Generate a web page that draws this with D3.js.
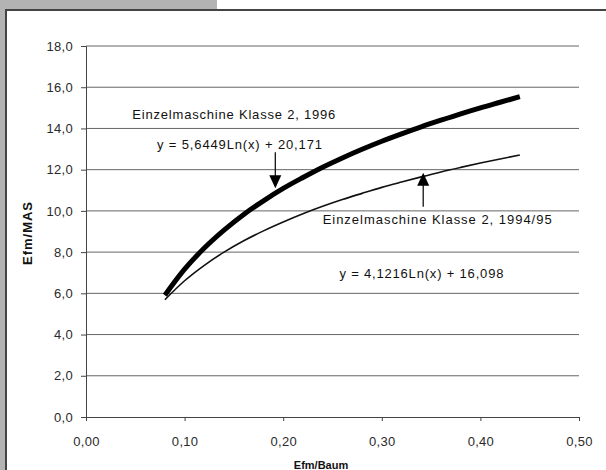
<!DOCTYPE html>
<html lang="de">
  <head>
    <meta charset="utf-8" />
    <title>Efm/MAS</title>
    <script src="https://d3js.org/d3.v7.min.js"></script>
    <style>
     body {
       margin: 0;
       background: #fff;
       font-family: Arial, "Liberation Sans", sans-serif;
     }
     .tick text {
       fill: #2a2a2a;
       font-size: 13px;
       letter-spacing: 0.3px;
     }
     .note {
       fill: #111;
       font-size: 13px;
     }
     .title {
       fill: #111;
       font-weight: bold;
     }
    </style>
  </head>
  <body>
    <div id="chart"></div>

    <script>

     // x values (Efm/Baum) and the two fitted curves
     var xVals = [0.08, 0.10, 0.12, 0.14, 0.16, 0.18, 0.20, 0.22, 0.24, 0.26,
                  0.28, 0.30, 0.32, 0.34, 0.36, 0.38, 0.40, 0.42, 0.44];
     var y1996 = [5.91, 7.17, 8.20, 9.07, 9.83, 10.49, 11.09, 11.62, 12.12, 12.57,
                  12.99, 13.38, 13.74, 14.08, 14.40, 14.71, 15.00, 15.27, 15.54];
     var y199495 = [5.69, 6.61, 7.36, 8.00, 8.55, 9.03, 9.46, 9.86, 10.22, 10.55,
                    10.85, 11.14, 11.40, 11.65, 11.89, 12.11, 12.32, 12.52, 12.71];

     var xTicks = [0, 0.1, 0.2, 0.3, 0.4, 0.5];
     var yTicks = [0, 2, 4, 6, 8, 10, 12, 14, 16, 18];

     // annotation texts, [x, y] in data units
     var notes = [
       {text: "Einzelmaschine Klasse 2, 1996", x: 0.047, y: 14.45, len: 203},
       {text: "y = 5,6449Ln(x) + 20,171", x: 0.072, y: 13.0, len: 165},
       {text: "Einzelmaschine Klasse 2,  1994/95", x: 0.240, y: 9.37, len: 229},
       {text: "y = 4,1216Ln(x) + 16,098", x: 0.257, y: 6.75, len: 164}
     ];
     // arrows: from tail to tip, data units
     var arrows = [
       {x: 0.192, from: 12.85, to: 11.1},
       {x: 0.342, from: 10.2, to: 11.85}
     ];

     var width = 606, height = 470;

     var svg = d3.select("#chart").append("svg")
                 .attr("width", width)
                 .attr("height", height);

     // scan frame: grey strips and dark border
     svg.append("rect").attr("x", 0).attr("y", 0).attr("width", 217).attr("height", 10).attr("fill", "#b3b3b3");
     svg.append("rect").attr("x", 0).attr("y", 0).attr("width", 5).attr("height", height).attr("fill", "#b3b3b3");
     svg.append("line").attr("x1", 5).attr("x2", width).attr("y1", 10).attr("y2", 10)
        .attr("stroke", "#444").attr("stroke-width", 2);
     svg.append("line").attr("x1", 6).attr("x2", 6).attr("y1", 10).attr("y2", height)
        .attr("stroke", "#444").attr("stroke-width", 2);

     var x = d3.scaleLinear().domain([0, 0.5]).range([86, 579]);
     var y = d3.scaleLinear().domain([0, 18]).range([417, 46]);

     var fmt = function(d, n) { return d3.format("." + n + "f")(d).replace(".", ","); };

     // gridlines
     svg.append("g")
        .selectAll("line")
        .data(yTicks.filter(function(d) { return d > 0; }))
        .join("line")
        .attr("x1", x(0)).attr("x2", x(0.5))
        .attr("y1", function(d) { return y(d); })
        .attr("y2", function(d) { return y(d); })
        .attr("stroke", "#666")
        .attr("stroke-width", 1);

     var xAxis = svg.append("g")
        .attr("transform", "translate(0," + y(0) + ")")
        .call(d3.axisBottom(x).tickValues(xTicks).tickSize(4).tickPadding(16)
                .tickFormat(function(d) { return fmt(d, 2); }));

     var yAxis = svg.append("g")
        .attr("transform", "translate(" + x(0) + ",0)")
        .call(d3.axisLeft(y).tickValues(yTicks).tickSize(5).tickPadding(8)
                .tickFormat(function(d) { return fmt(d, 1); }));

     [xAxis, yAxis].forEach(function(a) {
       a.select(".domain").attr("stroke", "#444");
       a.selectAll(".tick line").attr("stroke", "#444");
       a.attr("font-family", null).attr("font-size", null);
     });

     // axis titles
     svg.append("text").attr("class", "title")
        .attr("x", 321).attr("y", 469)
        .attr("font-size", 11)
        .attr("text-anchor", "middle")
        .text("Efm/Baum");
     svg.append("text").attr("class", "title")
        .attr("transform", "translate(32," + 233 + ") rotate(-90)")
        .attr("font-size", 13)
        .attr("letter-spacing", 1)
        .attr("text-anchor", "middle")
        .text("Efm/MAS");

     var line = d3.line()
        .x(function(d) { return x(d[0]); })
        .y(function(d) { return y(d[1]); })
        .curve(d3.curveMonotoneX);

     svg.append("path")
        .datum(d3.zip(xVals, y199495))
        .attr("d", line)
        .attr("fill", "none")
        .attr("stroke", "#111")
        .attr("stroke-width", 1.6);

     svg.append("path")
        .datum(d3.zip(xVals, y1996))
        .attr("d", line)
        .attr("fill", "none")
        .attr("stroke", "#000")
        .attr("stroke-width", 5);

     // arrows
     arrows.forEach(function(a) {
       var px = x(a.x), y0 = y(a.from), y1 = y(a.to);
       var dir = y1 > y0 ? 1 : -1;
       svg.append("line")
          .attr("x1", px).attr("x2", px)
          .attr("y1", y0).attr("y2", y1 - dir * 10)
          .attr("stroke", "#111").attr("stroke-width", 1.3);
       svg.append("path")
          .attr("d", "M" + (px - 6) + "," + (y1 - dir * 13) + "L" + (px + 6) + "," + (y1 - dir * 13) + "L" + px + "," + y1 + "Z")
          .attr("fill", "#000");
     });

     svg.append("g")
        .selectAll("text")
        .data(notes)
        .join("text")
        .attr("class", "note")
        .attr("x", function(d) { return x(d.x); })
        .attr("y", function(d) { return y(d.y); })
        .attr("textLength", function(d) { return d.len; })
        .attr("lengthAdjust", "spacing")
        .text(function(d) { return d.text; });

    </script>
  </body>
</html>
